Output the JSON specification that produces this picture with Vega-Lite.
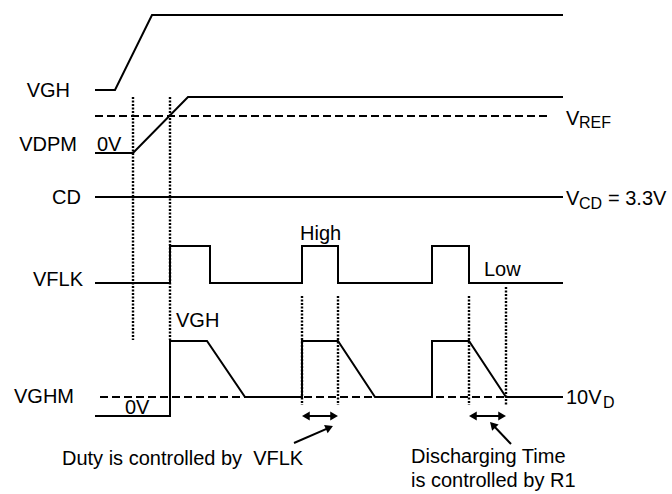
{
  "$schema": "https://vega.github.io/schema/vega-lite/v6.json",
  "autosize": {"type": "fit", "contains": "padding"},
  "width": 672,
  "height": 494,
  "padding": 0,
  "background": "white",
  "config": {"view": {"stroke": null}, "text": {"font": "Liberation Sans", "fontSize": 20, "color": "black"}},
  "datasets": {
    "waves": [
      {"sig": "VGH", "i": 0, "t": 95, "v": 90},
      {"sig": "VGH", "i": 1, "t": 115, "v": 90},
      {"sig": "VGH", "i": 2, "t": 152, "v": 15},
      {"sig": "VGH", "i": 3, "t": 563, "v": 15},
      {"sig": "VDPM", "i": 0, "t": 95, "v": 153},
      {"sig": "VDPM", "i": 1, "t": 133, "v": 153},
      {"sig": "VDPM", "i": 2, "t": 188, "v": 97},
      {"sig": "VDPM", "i": 3, "t": 563, "v": 97},
      {"sig": "CD", "i": 0, "t": 95, "v": 197},
      {"sig": "CD", "i": 1, "t": 563, "v": 197},
      {"sig": "VFLK", "i": 0, "t": 95, "v": 283},
      {"sig": "VFLK", "i": 1, "t": 170, "v": 283},
      {"sig": "VFLK", "i": 2, "t": 170, "v": 246},
      {"sig": "VFLK", "i": 3, "t": 210, "v": 246},
      {"sig": "VFLK", "i": 4, "t": 210, "v": 283},
      {"sig": "VFLK", "i": 5, "t": 302, "v": 283},
      {"sig": "VFLK", "i": 6, "t": 302, "v": 246},
      {"sig": "VFLK", "i": 7, "t": 338, "v": 246},
      {"sig": "VFLK", "i": 8, "t": 338, "v": 283},
      {"sig": "VFLK", "i": 9, "t": 432, "v": 283},
      {"sig": "VFLK", "i": 10, "t": 432, "v": 246},
      {"sig": "VFLK", "i": 11, "t": 469, "v": 246},
      {"sig": "VFLK", "i": 12, "t": 469, "v": 283},
      {"sig": "VFLK", "i": 13, "t": 563, "v": 283},
      {"sig": "VGHM", "i": 0, "t": 95, "v": 416},
      {"sig": "VGHM", "i": 1, "t": 170, "v": 416},
      {"sig": "VGHM", "i": 2, "t": 170, "v": 341},
      {"sig": "VGHM", "i": 3, "t": 207, "v": 341},
      {"sig": "VGHM", "i": 4, "t": 245, "v": 397},
      {"sig": "VGHM", "i": 5, "t": 302, "v": 397},
      {"sig": "VGHM", "i": 6, "t": 302, "v": 341},
      {"sig": "VGHM", "i": 7, "t": 338, "v": 341},
      {"sig": "VGHM", "i": 8, "t": 375, "v": 397},
      {"sig": "VGHM", "i": 9, "t": 432, "v": 397},
      {"sig": "VGHM", "i": 10, "t": 432, "v": 341},
      {"sig": "VGHM", "i": 11, "t": 469, "v": 341},
      {"sig": "VGHM", "i": 12, "t": 506, "v": 397},
      {"sig": "VGHM", "i": 13, "t": 563, "v": 397}
    ],
    "dashes": [
      {"name": "VREF", "t": 95, "t2": 549, "v": 116},
      {"name": "10VD", "t": 100, "t2": 563, "v": 397}
    ],
    "dots": [
      {"t": 133, "v": 97, "v2": 340},
      {"t": 170, "v": 97, "v2": 340},
      {"t": 302, "v": 296, "v2": 405},
      {"t": 338, "v": 296, "v2": 405},
      {"t": 469, "v": 296, "v2": 405},
      {"t": 506, "v": 287, "v2": 405}
    ],
    "arrows": [
      {"kind": "span", "t": 305, "v": 416, "t2": 335, "v2": 416},
      {"kind": "span", "t": 472, "v": 416, "t2": 503, "v2": 416},
      {"kind": "p1", "t": 294, "v": 443, "t2": 329.4, "v2": 427.6},
      {"kind": "p2", "t": 511, "v": 444, "t2": 492.7, "v2": 424.8}
    ],
    "heads": [
      {"kind": "left", "t": 305.9, "v": 416},
      {"kind": "right", "t": 334.1, "v": 416},
      {"kind": "left", "t": 472.9, "v": 416},
      {"kind": "right", "t": 502.1, "v": 416},
      {"kind": "p1", "t": 329.4, "v": 427.6},
      {"kind": "p2", "t": 492.7, "v": 424.8}
    ],
    "labels": [
      {"kind": "name", "t": 70, "v": 97, "text": "VGH"},
      {"kind": "name", "t": 77, "v": 151, "text": "VDPM"},
      {"kind": "name", "t": 81, "v": 204, "text": "CD"},
      {"kind": "name", "t": 83, "v": 286, "text": "VFLK"},
      {"kind": "name", "t": 74, "v": 403, "text": "VGHM"},
      {"kind": "note", "t": 97, "v": 151, "text": "0V"},
      {"kind": "note", "t": 125, "v": 414, "text": "0V"},
      {"kind": "note", "t": 176, "v": 327, "text": "VGH"},
      {"kind": "note", "t": 300, "v": 240, "text": "High"},
      {"kind": "note", "t": 484, "v": 276, "text": "Low"},
      {"kind": "note", "t": 566, "v": 125, "text": "V"},
      {"kind": "note", "t": 566, "v": 205, "text": "V"},
      {"kind": "note", "t": 608, "v": 205, "text": "= 3.3V"},
      {"kind": "note", "t": 566, "v": 404, "text": "10V"},
      {"kind": "note", "t": 62, "v": 465, "text": "Duty is controlled by \u00a0VFLK"},
      {"kind": "note", "t": 411, "v": 463, "text": "Discharging Time"},
      {"kind": "note", "t": 411, "v": 487, "text": "is controlled by R1"},
      {"kind": "sub", "t": 579, "v": 128, "text": "REF"},
      {"kind": "sub", "t": 579, "v": 209, "text": "CD"},
      {"kind": "sub", "t": 603, "v": 408, "text": "D"}
    ]
  },
  "encoding": {
    "x": {"field": "t", "type": "quantitative", "scale": {"domain": [0, 672], "nice": false, "zero": false}, "axis": null},
    "y": {"field": "v", "type": "quantitative", "scale": {"domain": [0, 494], "nice": false, "zero": false, "reverse": true}, "axis": null}
  },
  "layer": [
    {
      "data": {"name": "dashes"},
      "mark": {"type": "rule", "color": "black", "strokeWidth": 2.2, "strokeDash": [8, 4]},
      "encoding": {"x2": {"field": "t2"}}
    },
    {
      "data": {"name": "dots"},
      "mark": {"type": "rule", "color": "black", "strokeWidth": 2.4, "strokeDash": [2, 1.5]},
      "encoding": {"y2": {"field": "v2"}}
    },
    {
      "data": {"name": "waves"},
      "mark": {"type": "line", "color": "black", "strokeWidth": 2, "strokeJoin": "miter", "strokeCap": "butt"},
      "encoding": {"detail": {"field": "sig"}, "order": {"field": "i", "type": "quantitative"}}
    },
    {
      "data": {"name": "arrows"},
      "mark": {"type": "rule", "color": "black", "strokeWidth": 2},
      "encoding": {"x2": {"field": "t2"}, "y2": {"field": "v2"}}
    },
    {
      "data": {"name": "heads"},
      "transform": [{"filter": "datum.kind == 'left'"}],
      "mark": {"type": "point", "shape": "triangle-left", "filled": true, "color": "black", "opacity": 1, "size": 80}
    },
    {
      "data": {"name": "heads"},
      "transform": [{"filter": "datum.kind == 'right'"}],
      "mark": {"type": "point", "shape": "triangle-right", "filled": true, "color": "black", "opacity": 1, "size": 80}
    },
    {
      "data": {"name": "heads"},
      "transform": [{"filter": "datum.kind == 'p1'"}],
      "mark": {"type": "point", "shape": "triangle-up", "filled": true, "color": "black", "opacity": 1, "size": 80, "angle": 66.4}
    },
    {
      "data": {"name": "heads"},
      "transform": [{"filter": "datum.kind == 'p2'"}],
      "mark": {"type": "point", "shape": "triangle-up", "filled": true, "color": "black", "opacity": 1, "size": 80, "angle": 316.7}
    },
    {
      "data": {"name": "labels"},
      "transform": [{"filter": "datum.kind == 'name'"}],
      "mark": {"type": "text", "align": "right", "baseline": "alphabetic", "fontSize": 20},
      "encoding": {"text": {"field": "text"}}
    },
    {
      "data": {"name": "labels"},
      "transform": [{"filter": "datum.kind == 'note'"}],
      "mark": {"type": "text", "align": "left", "baseline": "alphabetic", "fontSize": 20},
      "encoding": {"text": {"field": "text"}}
    },
    {
      "data": {"name": "labels"},
      "transform": [{"filter": "datum.kind == 'sub'"}],
      "mark": {"type": "text", "align": "left", "baseline": "alphabetic", "fontSize": 16},
      "encoding": {"text": {"field": "text"}}
    }
  ]
}
